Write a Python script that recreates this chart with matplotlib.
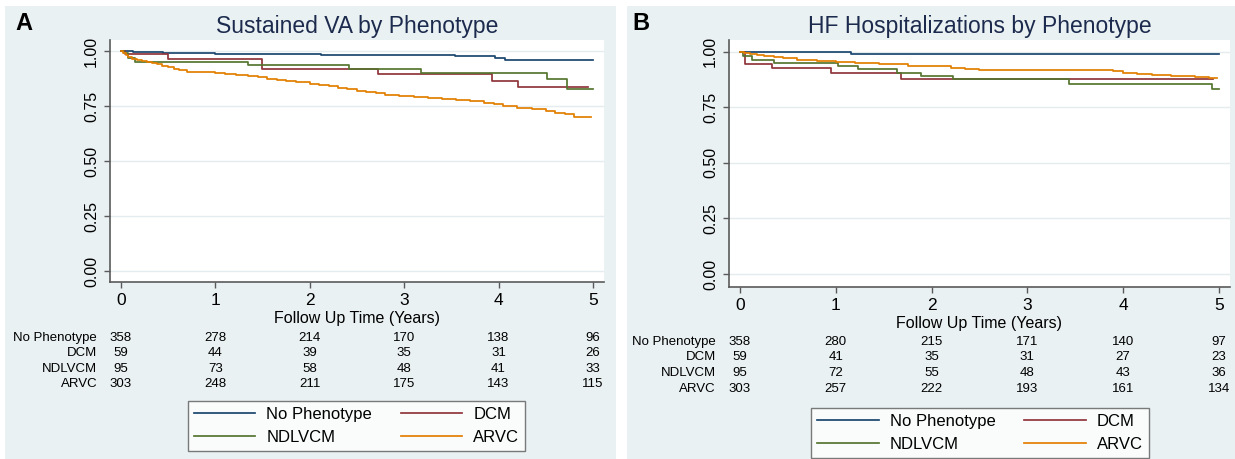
import matplotlib.pyplot as plt
import matplotlib.patches as mpatches
from matplotlib.transforms import blended_transform_factory

plt.rcParams['font.family'] = ['Liberation Sans', 'DejaVu Sans']

groups = ['No Phenotype', 'DCM', 'NDLVCM', 'ARVC']
colors = ['#1a476f', '#90353b', '#55752f', '#e37e00']
years = [0, 1, 2, 3, 4, 5]

# panel A: sustained VA (Kaplan-Meier steps)
va_none_t = [0, 0.13, 0.45, 1.0, 2.12, 3.54, 3.96, 4.07, 5.0]
va_none_s = [1.0, 0.997, 0.990, 0.986, 0.982, 0.975, 0.968, 0.960, 0.960]
va_dcm_t = [0, 0.04, 0.50, 1.50, 2.72, 3.93, 4.21, 4.95]
va_dcm_s = [1.0, 0.985, 0.962, 0.917, 0.894, 0.865, 0.838, 0.838]
va_ndl_t = [0, 0.03, 0.08, 0.15, 1.35, 2.42, 3.18, 4.51, 4.73, 5.0]
va_ndl_s = [1.0, 0.99, 0.97, 0.952, 0.936, 0.918, 0.899, 0.873, 0.827, 0.827]
va_arvc_t = [0, 0.02, 0.05, 0.08, 0.12, 0.17, 0.22, 0.28, 0.33, 0.38, 0.44,
             0.50, 0.56, 0.62, 0.70, 0.85, 1.0, 1.1, 1.22, 1.35, 1.45, 1.55,
             1.65, 1.75, 1.85, 2.0, 2.1, 2.2, 2.3, 2.4, 2.5, 2.6, 2.7, 2.8,
             2.95, 3.1, 3.25, 3.4, 3.55, 3.7, 3.85, 3.95, 4.05, 4.2, 4.35,
             4.5, 4.6, 4.7, 4.8, 4.98]
va_arvc_s = [1.0, 0.99, 0.98, 0.972, 0.965, 0.96, 0.955, 0.95, 0.945, 0.94,
             0.933, 0.927, 0.92, 0.913, 0.906, 0.903, 0.899, 0.895, 0.89,
             0.886, 0.88, 0.874, 0.868, 0.862, 0.857, 0.852, 0.846, 0.84,
             0.833, 0.826, 0.82, 0.815, 0.808, 0.80, 0.795, 0.79, 0.786,
             0.782, 0.776, 0.771, 0.765, 0.758, 0.748, 0.742, 0.738, 0.727,
             0.72, 0.712, 0.70, 0.70]

# panel B: HF hospitalizations
hf_none_t = [0, 0.15, 0.43, 1.16, 5.0]
hf_none_s = [1.0, 0.999, 0.997, 0.991, 0.991]
hf_dcm_t = [0, 0.05, 0.33, 0.95, 1.68, 4.94]
hf_dcm_s = [1.0, 0.947, 0.925, 0.904, 0.878, 0.878]
hf_ndl_t = [0, 0.03, 0.12, 0.36, 1.02, 1.23, 1.64, 1.89, 2.22, 3.44, 4.93, 5.0]
hf_ndl_s = [1.0, 0.98, 0.964, 0.948, 0.936, 0.921, 0.905, 0.889, 0.876,
            0.855, 0.832, 0.832]
hf_arvc_t = [0, 0.04, 0.1, 0.18, 0.25, 0.35, 0.45, 0.6, 0.8, 1.0, 1.2, 1.45,
             1.75, 2.05, 2.2, 2.35, 2.5, 3.9, 4.0, 4.15, 4.3, 4.5, 4.75, 4.9,
             4.98]
hf_arvc_s = [1.0, 0.995, 0.99, 0.985, 0.98, 0.975, 0.97, 0.964, 0.958, 0.953,
             0.948, 0.943, 0.938, 0.934, 0.928, 0.922, 0.917, 0.912, 0.906,
             0.9, 0.895, 0.89, 0.886, 0.882, 0.88]

# numbers at risk
va_risk_none = [358, 278, 214, 170, 138, 96]
va_risk_dcm = [59, 44, 39, 35, 31, 26]
va_risk_ndl = [95, 73, 58, 48, 41, 33]
va_risk_arvc = [303, 248, 211, 175, 143, 115]
hf_risk_none = [358, 280, 215, 171, 140, 97]
hf_risk_dcm = [59, 41, 35, 31, 27, 23]
hf_risk_ndl = [95, 72, 55, 48, 43, 36]
hf_risk_arvc = [303, 257, 222, 193, 161, 134]

W, H = 1235, 459
BG = '#eaf1f3'
AXC = '#5a5a5a'


def fx(px):
    return px / W


def fy(py):
    return 1 - py / H


def km_panel(fig, box, ylim, letter, letter_x, title, title_x, curves, risk,
             risk_y, leg_center):
    x0, y0, x1, y1 = box
    ax = fig.add_axes([fx(x0), fy(y1), fx(x1 - x0), (y1 - y0) / H])
    ax.set_facecolor('white')
    for (t, s), c, g in zip(curves, colors, groups):
        ax.plot(t, s, drawstyle='steps-post', color=c, lw=1.25, label=g)
    ax.set_xlim(-0.115, 5.117)
    ax.set_ylim(*ylim)
    ax.set_xticks(years)
    ax.set_yticks([0, 0.25, 0.5, 0.75, 1.0])
    ax.set_yticklabels(['0.00', '0.25', '0.50', '0.75', '1.00'],
                       rotation=90, va='center')
    ax.yaxis.grid(True, color='#e4ecef', lw=1)
    ax.set_axisbelow(True)
    for side in ['top', 'right']:
        ax.spines[side].set_visible(False)
    for side in ['left', 'bottom']:
        ax.spines[side].set_color(AXC)
        ax.spines[side].set_linewidth(1.2)
    ax.tick_params(axis='x', length=4, width=1, color=AXC, labelsize=12.5,
                   pad=4)
    ax.tick_params(axis='y', length=4, width=1, color=AXC, labelsize=11.5,
                   pad=4)
    ax.set_xlabel('Follow Up Time (Years)', fontsize=11.5, labelpad=2)

    fig.text(fx(letter_x), fy(23), letter, fontsize=17, fontweight='bold',
             ha='center', va='center')
    fig.text(fx(title_x), fy(33), title, fontsize=16.5, color='#1c2b4d',
             ha='center', va='baseline')

    tr = blended_transform_factory(ax.transData, fig.transFigure)
    trl = blended_transform_factory(ax.transAxes, fig.transFigure)
    for g, row, py in zip(groups, risk, risk_y):
        ax.text(-0.026, fy(py), g, transform=trl, ha='right', va='center',
                fontsize=9.5)
        for yr, n in zip(years, row):
            ax.text(yr, fy(py), str(n), transform=tr, ha='center',
                    va='center', fontsize=9.5)

    handles, labels = ax.get_legend_handles_labels()
    order = [0, 2, 1, 3]
    leg = fig.legend([handles[i] for i in order], [labels[i] for i in order],
                     ncol=2, loc='center',
                     bbox_to_anchor=(fx(leg_center[0]), fy(leg_center[1])),
                     fontsize=12, frameon=True, fancybox=False,
                     handlelength=3.7, handletextpad=0.66, columnspacing=1.7,
                     borderpad=0.35, labelspacing=0.45)
    leg.get_frame().set_edgecolor(AXC)
    leg.get_frame().set_linewidth(1)
    leg.get_frame().set_facecolor('white')
    return ax


fig = plt.figure(figsize=(W / 100, H / 100), dpi=100)
fig.patch.set_facecolor('white')
fig.patches.append(mpatches.Rectangle((fx(5), 0), fx(611), fy(6),
                                      transform=fig.transFigure,
                                      facecolor=BG, edgecolor='none',
                                      zorder=-10))
fig.patches.append(mpatches.Rectangle((fx(627), 0), fx(608), fy(6),
                                      transform=fig.transFigure,
                                      facecolor=BG, edgecolor='none',
                                      zorder=-10))

km_panel(fig, (110, 40, 604, 282), (-0.05, 1.05), 'A', 24,
         'Sustained VA by Phenotype', 357,
         [(va_none_t, va_none_s), (va_dcm_t, va_dcm_s),
          (va_ndl_t, va_ndl_s), (va_arvc_t, va_arvc_s)],
         [va_risk_none, va_risk_dcm, va_risk_ndl, va_risk_arvc],
         [338, 353, 368.5, 384], (356.5, 426))

km_panel(fig, (729, 40, 1230, 287), (-0.0585, 1.053), 'B', 641,
         'HF Hospitalizations by Phenotype', 980,
         [(hf_none_t, hf_none_s), (hf_dcm_t, hf_dcm_s),
          (hf_ndl_t, hf_ndl_s), (hf_arvc_t, hf_arvc_s)],
         [hf_risk_none, hf_risk_dcm, hf_risk_ndl, hf_risk_arvc],
         [342, 357.5, 373, 388.5], (980, 433))

fig.savefig('out.png', dpi=100)
